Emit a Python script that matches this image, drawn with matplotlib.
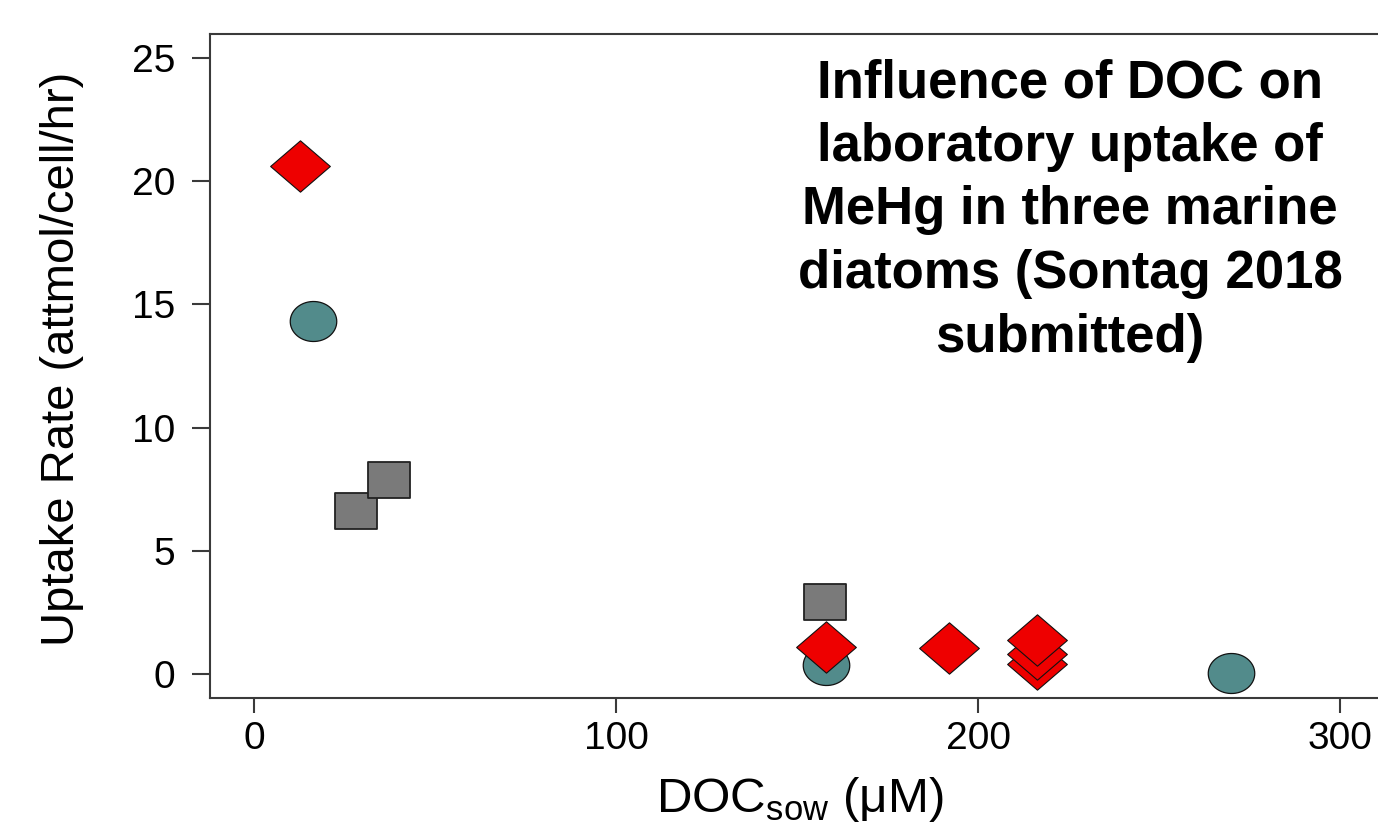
import numpy as np
import matplotlib
matplotlib.use("Agg")
from matplotlib import pyplot as plt
from matplotlib.path import Path

plt.rcParams["font.family"] = ["Liberation Sans", "DejaVu Sans"]
plt.rcParams["mathtext.fontset"] = "custom"
plt.rcParams["mathtext.rm"] = "Liberation Sans"

# three diatom species, DOC (uM) vs uptake rate (attmol/cell/hr)
circle_doc = [16.2, 158.0, 269.9]
circle_rate = [14.33, 0.37, 0.04]
square_doc = [28.2, 37.2, 157.8]
square_rate = [6.63, 7.89, 2.94]
diamond_doc = [12.8, 158.0, 192.0, 216.1, 216.1, 216.1]
diamond_rate = [20.61, 1.08, 1.06, 0.41, 0.81, 1.37]

xticks = [0, 100, 200, 300]
yticks = [0, 5, 10, 15, 20, 25]
title = "Influence of DOC on\nlaboratory uptake of\nMeHg in three marine\ndiatoms (Sontag 2018\nsubmitted)"

colors = {"circle": "#528B8B", "square": "#7A7A7A", "diamond": "#EE0000"}

# markers in the source are slightly wider than tall
ASPECT = 0.86
t = np.linspace(0, 2 * np.pi, 60)
ellipse = Path(np.column_stack([np.cos(t), ASPECT * np.sin(t)]), closed=True)
box = Path([(-1, -ASPECT), (1, -ASPECT), (1, ASPECT), (-1, ASPECT), (-1, -ASPECT)], closed=True)
rhomb = Path([(-1, 0), (0, ASPECT), (1, 0), (0, -ASPECT), (-1, 0)], closed=True)

fig = plt.figure(figsize=(13.78, 8.22), dpi=100)
W, H = 1378, 822
ax = fig.add_axes([210 / W, (H - 698) / H, (1381 - 210) / W, (698 - 34) / H])

ax.plot(circle_doc, circle_rate, linestyle="none", marker=ellipse, markersize=33.5,
        markerfacecolor=colors["circle"], markeredgecolor="#111111", markeredgewidth=0.9, zorder=3)
ax.plot(square_doc, square_rate, linestyle="none", marker=box, markersize=30.5,
        markerfacecolor=colors["square"], markeredgecolor="#222222", markeredgewidth=1.3, zorder=4)
ax.plot(diamond_doc, diamond_rate, linestyle="none", marker=rhomb, markersize=43,
        markerfacecolor=colors["diamond"], markeredgecolor="#111111", markeredgewidth=0.8, zorder=5)

ax.set_xlim(-12.15, 311.2)
ax.set_ylim(-0.97, 25.97)
ax.set_xticks(xticks)
ax.set_yticks(yticks)
ax.set_xticklabels([str(v) for v in xticks])
ax.set_yticklabels([str(v) for v in yticks])

for s in ax.spines.values():
    s.set_linewidth(1.5)
    s.set_color("#3a3a3a")
ax.tick_params(axis="both", direction="out", colors="#3a3a3a", labelcolor="black",
               width=1.5, labelsize=28)
ax.tick_params(axis="y", length=13, pad=12)
ax.tick_params(axis="x", length=10.8, pad=6)

fig.text(62 / W, (H - 359) / H, "Uptake Rate (attmol/cell/hr)", rotation=90,
         ha="center", va="center", fontsize=34)
fig.text(800 / W, (H - 812) / H, r"DOC$_{\mathregular{sow}}$ (μM)",
         ha="center", va="baseline", fontsize=35.5)

fig.text(1070 / W, (H - 58) / H, title, ha="center", va="top", multialignment="center",
         fontsize=38, fontweight="bold", linespacing=1.35)

fig.savefig("out.png", dpi=100)
